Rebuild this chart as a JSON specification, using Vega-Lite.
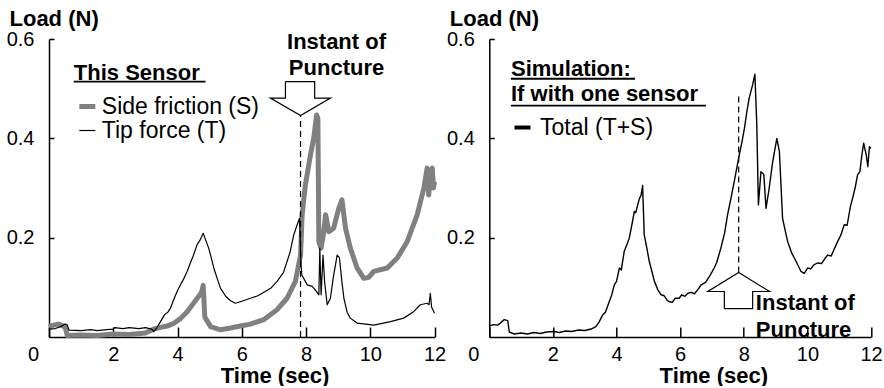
{
  "$schema": "https://vega.github.io/schema/vega-lite/v6.json",
  "background": "white",
  "padding": {"left": 6, "top": 7, "right": 0, "bottom": 0},
  "spacing": 54.3,
  "bounds": "flush",
  "config": {
    "view": {"stroke": null},
    "font": "Liberation Sans",
    "axis": {
      "grid": false, "domain": true, "ticks": true, "domainColor": "#000000", "domainWidth": 1.5, "tickColor": "#000000", "tickWidth": 1.5,
      "labelColor": "black", "labelFont": "Liberation Sans", "labelFontSize": 20, "labelFlush": false, "labelOverlap": false,
      "titleColor": "black", "titleFont": "Liberation Sans", "titleFontSize": 22, "titleFontWeight": "bold"
    },
    "axisX": {"domain": true, "ticks": true, "domainColor": "#000000", "domainWidth": 1.5, "tickColor": "#000000", "tickWidth": 1.5, "grid": false},
    "axisY": {"domain": true, "ticks": true, "domainColor": "#000000", "domainWidth": 1.5, "tickColor": "#000000", "tickWidth": 1.5, "grid": false},
    "legend": {
      "orient": "none", "padding": 0, "rowPadding": 0, "titlePadding": 10, "symbolType": "stroke",
      "titleFont": "Liberation Sans", "titleFontSize": 22, "titleFontWeight": "bold", "titleColor": "black",
      "labelFont": "Liberation Sans", "labelFontSize": 23, "labelColor": "black", "titleLimit": 400, "labelLimit": 400
    }
  },
  "datasets": {
    "left": [
      {"series": "Tip force (T)", "t": 0, "v": 0.016},
      {"series": "Tip force (T)", "t": 0.2, "v": 0.017},
      {"series": "Tip force (T)", "t": 0.4, "v": 0.022},
      {"series": "Tip force (T)", "t": 0.5, "v": 0.026},
      {"series": "Tip force (T)", "t": 0.57, "v": 0.024},
      {"series": "Tip force (T)", "t": 0.62, "v": 0.014},
      {"series": "Tip force (T)", "t": 1.0, "v": 0.013},
      {"series": "Tip force (T)", "t": 1.3, "v": 0.015},
      {"series": "Tip force (T)", "t": 1.5, "v": 0.013},
      {"series": "Tip force (T)", "t": 1.8, "v": 0.015},
      {"series": "Tip force (T)", "t": 2.0, "v": 0.016},
      {"series": "Tip force (T)", "t": 2.05, "v": 0.019},
      {"series": "Tip force (T)", "t": 2.3, "v": 0.017},
      {"series": "Tip force (T)", "t": 2.5, "v": 0.019},
      {"series": "Tip force (T)", "t": 2.8, "v": 0.017},
      {"series": "Tip force (T)", "t": 3.0, "v": 0.019},
      {"series": "Tip force (T)", "t": 3.2, "v": 0.016},
      {"series": "Tip force (T)", "t": 3.26, "v": 0.011},
      {"series": "Tip force (T)", "t": 3.35, "v": 0.018},
      {"series": "Tip force (T)", "t": 3.47, "v": 0.031},
      {"series": "Tip force (T)", "t": 3.6, "v": 0.045},
      {"series": "Tip force (T)", "t": 3.7, "v": 0.05},
      {"series": "Tip force (T)", "t": 3.78, "v": 0.058},
      {"series": "Tip force (T)", "t": 3.9, "v": 0.078},
      {"series": "Tip force (T)", "t": 3.99, "v": 0.092},
      {"series": "Tip force (T)", "t": 4.1, "v": 0.106},
      {"series": "Tip force (T)", "t": 4.2, "v": 0.118},
      {"series": "Tip force (T)", "t": 4.3, "v": 0.132},
      {"series": "Tip force (T)", "t": 4.4, "v": 0.149},
      {"series": "Tip force (T)", "t": 4.5, "v": 0.165},
      {"series": "Tip force (T)", "t": 4.61, "v": 0.186},
      {"series": "Tip force (T)", "t": 4.7, "v": 0.195},
      {"series": "Tip force (T)", "t": 4.8, "v": 0.209},
      {"series": "Tip force (T)", "t": 4.85, "v": 0.2},
      {"series": "Tip force (T)", "t": 4.97, "v": 0.179},
      {"series": "Tip force (T)", "t": 5.05, "v": 0.16},
      {"series": "Tip force (T)", "t": 5.13, "v": 0.139},
      {"series": "Tip force (T)", "t": 5.25, "v": 0.115},
      {"series": "Tip force (T)", "t": 5.34, "v": 0.098},
      {"series": "Tip force (T)", "t": 5.5, "v": 0.082},
      {"series": "Tip force (T)", "t": 5.65, "v": 0.073},
      {"series": "Tip force (T)", "t": 5.8, "v": 0.068},
      {"series": "Tip force (T)", "t": 6.0, "v": 0.072},
      {"series": "Tip force (T)", "t": 6.27, "v": 0.078},
      {"series": "Tip force (T)", "t": 6.5, "v": 0.083},
      {"series": "Tip force (T)", "t": 6.69, "v": 0.09},
      {"series": "Tip force (T)", "t": 6.9, "v": 0.098},
      {"series": "Tip force (T)", "t": 7.1, "v": 0.112},
      {"series": "Tip force (T)", "t": 7.3, "v": 0.13},
      {"series": "Tip force (T)", "t": 7.41, "v": 0.152},
      {"series": "Tip force (T)", "t": 7.5, "v": 0.17},
      {"series": "Tip force (T)", "t": 7.62, "v": 0.206},
      {"series": "Tip force (T)", "t": 7.72, "v": 0.225},
      {"series": "Tip force (T)", "t": 7.8, "v": 0.239},
      {"series": "Tip force (T)", "t": 7.84, "v": 0.15},
      {"series": "Tip force (T)", "t": 7.87, "v": 0.125},
      {"series": "Tip force (T)", "t": 8.04, "v": 0.105},
      {"series": "Tip force (T)", "t": 8.19, "v": 0.102},
      {"series": "Tip force (T)", "t": 8.29, "v": 0.095},
      {"series": "Tip force (T)", "t": 8.4, "v": 0.085},
      {"series": "Tip force (T)", "t": 8.43, "v": 0.179},
      {"series": "Tip force (T)", "t": 8.47, "v": 0.085},
      {"series": "Tip force (T)", "t": 8.53, "v": 0.165},
      {"series": "Tip force (T)", "t": 8.58, "v": 0.11},
      {"series": "Tip force (T)", "t": 8.66, "v": 0.065},
      {"series": "Tip force (T)", "t": 8.76, "v": 0.078},
      {"series": "Tip force (T)", "t": 8.85, "v": 0.12},
      {"series": "Tip force (T)", "t": 8.97, "v": 0.165},
      {"series": "Tip force (T)", "t": 9.04, "v": 0.16},
      {"series": "Tip force (T)", "t": 9.12, "v": 0.11},
      {"series": "Tip force (T)", "t": 9.18, "v": 0.078},
      {"series": "Tip force (T)", "t": 9.28, "v": 0.05},
      {"series": "Tip force (T)", "t": 9.38, "v": 0.038},
      {"series": "Tip force (T)", "t": 9.59, "v": 0.028},
      {"series": "Tip force (T)", "t": 10.11, "v": 0.024},
      {"series": "Tip force (T)", "t": 10.63, "v": 0.031},
      {"series": "Tip force (T)", "t": 11.04, "v": 0.038},
      {"series": "Tip force (T)", "t": 11.35, "v": 0.051},
      {"series": "Tip force (T)", "t": 11.56, "v": 0.065},
      {"series": "Tip force (T)", "t": 11.77, "v": 0.068},
      {"series": "Tip force (T)", "t": 11.83, "v": 0.065},
      {"series": "Tip force (T)", "t": 11.87, "v": 0.088},
      {"series": "Tip force (T)", "t": 11.91, "v": 0.06},
      {"series": "Tip force (T)", "t": 11.95, "v": 0.055},
      {"series": "Tip force (T)", "t": 12.0, "v": 0.048},
      {"series": "Side friction (S)", "t": 0, "v": 0.021},
      {"series": "Side friction (S)", "t": 0.15, "v": 0.024},
      {"series": "Side friction (S)", "t": 0.3, "v": 0.026},
      {"series": "Side friction (S)", "t": 0.45, "v": 0.022},
      {"series": "Side friction (S)", "t": 0.51, "v": 0.018},
      {"series": "Side friction (S)", "t": 0.57, "v": 0.003},
      {"series": "Side friction (S)", "t": 1.0, "v": 0.004},
      {"series": "Side friction (S)", "t": 1.5, "v": 0.003},
      {"series": "Side friction (S)", "t": 2.0, "v": 0.006},
      {"series": "Side friction (S)", "t": 2.5, "v": 0.005},
      {"series": "Side friction (S)", "t": 3.0, "v": 0.008},
      {"series": "Side friction (S)", "t": 3.26, "v": 0.016},
      {"series": "Side friction (S)", "t": 3.45, "v": 0.019},
      {"series": "Side friction (S)", "t": 3.68, "v": 0.022},
      {"series": "Side friction (S)", "t": 3.9, "v": 0.028},
      {"series": "Side friction (S)", "t": 4.09, "v": 0.037},
      {"series": "Side friction (S)", "t": 4.3, "v": 0.051},
      {"series": "Side friction (S)", "t": 4.51, "v": 0.069},
      {"series": "Side friction (S)", "t": 4.66, "v": 0.082},
      {"series": "Side friction (S)", "t": 4.75, "v": 0.09},
      {"series": "Side friction (S)", "t": 4.8, "v": 0.104},
      {"series": "Side friction (S)", "t": 4.85, "v": 0.04},
      {"series": "Side friction (S)", "t": 5.03, "v": 0.021},
      {"series": "Side friction (S)", "t": 5.34, "v": 0.0145},
      {"series": "Side friction (S)", "t": 5.65, "v": 0.018},
      {"series": "Side friction (S)", "t": 5.96, "v": 0.022},
      {"series": "Side friction (S)", "t": 6.27, "v": 0.026},
      {"series": "Side friction (S)", "t": 6.69, "v": 0.035},
      {"series": "Side friction (S)", "t": 7.1, "v": 0.055},
      {"series": "Side friction (S)", "t": 7.41, "v": 0.078},
      {"series": "Side friction (S)", "t": 7.67, "v": 0.112},
      {"series": "Side friction (S)", "t": 7.83, "v": 0.165},
      {"series": "Side friction (S)", "t": 7.88, "v": 0.246},
      {"series": "Side friction (S)", "t": 7.98, "v": 0.306},
      {"series": "Side friction (S)", "t": 8.14, "v": 0.367},
      {"series": "Side friction (S)", "t": 8.24, "v": 0.4},
      {"series": "Side friction (S)", "t": 8.33, "v": 0.447},
      {"series": "Side friction (S)", "t": 8.37, "v": 0.44},
      {"series": "Side friction (S)", "t": 8.4, "v": 0.192},
      {"series": "Side friction (S)", "t": 8.47, "v": 0.179},
      {"series": "Side friction (S)", "t": 8.55, "v": 0.21},
      {"series": "Side friction (S)", "t": 8.61, "v": 0.246},
      {"series": "Side friction (S)", "t": 8.71, "v": 0.212},
      {"series": "Side friction (S)", "t": 8.86, "v": 0.219},
      {"series": "Side friction (S)", "t": 9.02, "v": 0.259},
      {"series": "Side friction (S)", "t": 9.12, "v": 0.276},
      {"series": "Side friction (S)", "t": 9.23, "v": 0.219},
      {"series": "Side friction (S)", "t": 9.38, "v": 0.179},
      {"series": "Side friction (S)", "t": 9.59, "v": 0.139},
      {"series": "Side friction (S)", "t": 9.8, "v": 0.118},
      {"series": "Side friction (S)", "t": 9.95, "v": 0.12},
      {"series": "Side friction (S)", "t": 10.11, "v": 0.132},
      {"series": "Side friction (S)", "t": 10.53, "v": 0.139},
      {"series": "Side friction (S)", "t": 10.84, "v": 0.159},
      {"series": "Side friction (S)", "t": 11.15, "v": 0.192},
      {"series": "Side friction (S)", "t": 11.46, "v": 0.246},
      {"series": "Side friction (S)", "t": 11.67, "v": 0.3},
      {"series": "Side friction (S)", "t": 11.77, "v": 0.34},
      {"series": "Side friction (S)", "t": 11.82, "v": 0.286},
      {"series": "Side friction (S)", "t": 11.88, "v": 0.33},
      {"series": "Side friction (S)", "t": 11.93, "v": 0.34},
      {"series": "Side friction (S)", "t": 11.97, "v": 0.3},
      {"series": "Side friction (S)", "t": 12.0, "v": 0.313}
    ],
    "right": [
      {"series": "Total (T+S)", "t": 0, "v": 0.0225},
      {"series": "Total (T+S)", "t": 0.15, "v": 0.025},
      {"series": "Total (T+S)", "t": 0.26, "v": 0.024},
      {"series": "Total (T+S)", "t": 0.35, "v": 0.028},
      {"series": "Total (T+S)", "t": 0.47, "v": 0.035},
      {"series": "Total (T+S)", "t": 0.58, "v": 0.033},
      {"series": "Total (T+S)", "t": 0.63, "v": 0.01},
      {"series": "Total (T+S)", "t": 0.79, "v": 0.006},
      {"series": "Total (T+S)", "t": 1.0, "v": 0.008},
      {"series": "Total (T+S)", "t": 1.2, "v": 0.006},
      {"series": "Total (T+S)", "t": 1.4, "v": 0.009},
      {"series": "Total (T+S)", "t": 1.6, "v": 0.007},
      {"series": "Total (T+S)", "t": 1.8, "v": 0.01},
      {"series": "Total (T+S)", "t": 2.04, "v": 0.011},
      {"series": "Total (T+S)", "t": 2.2, "v": 0.009},
      {"series": "Total (T+S)", "t": 2.4, "v": 0.012},
      {"series": "Total (T+S)", "t": 2.6, "v": 0.011},
      {"series": "Total (T+S)", "t": 2.8, "v": 0.014},
      {"series": "Total (T+S)", "t": 3.0, "v": 0.013},
      {"series": "Total (T+S)", "t": 3.2, "v": 0.016},
      {"series": "Total (T+S)", "t": 3.35, "v": 0.021},
      {"series": "Total (T+S)", "t": 3.45, "v": 0.03},
      {"series": "Total (T+S)", "t": 3.57, "v": 0.045},
      {"series": "Total (T+S)", "t": 3.65, "v": 0.05},
      {"series": "Total (T+S)", "t": 3.77, "v": 0.071},
      {"series": "Total (T+S)", "t": 3.85, "v": 0.085},
      {"series": "Total (T+S)", "t": 3.93, "v": 0.105},
      {"series": "Total (T+S)", "t": 4.0, "v": 0.112},
      {"series": "Total (T+S)", "t": 4.09, "v": 0.139},
      {"series": "Total (T+S)", "t": 4.15, "v": 0.135},
      {"series": "Total (T+S)", "t": 4.24, "v": 0.172},
      {"series": "Total (T+S)", "t": 4.32, "v": 0.185},
      {"series": "Total (T+S)", "t": 4.4, "v": 0.199},
      {"series": "Total (T+S)", "t": 4.48, "v": 0.225},
      {"series": "Total (T+S)", "t": 4.56, "v": 0.253},
      {"series": "Total (T+S)", "t": 4.6, "v": 0.25},
      {"series": "Total (T+S)", "t": 4.65, "v": 0.262},
      {"series": "Total (T+S)", "t": 4.72, "v": 0.279},
      {"series": "Total (T+S)", "t": 4.77, "v": 0.285},
      {"series": "Total (T+S)", "t": 4.82, "v": 0.305},
      {"series": "Total (T+S)", "t": 4.87, "v": 0.206},
      {"series": "Total (T+S)", "t": 4.95, "v": 0.18},
      {"series": "Total (T+S)", "t": 5.03, "v": 0.152},
      {"series": "Total (T+S)", "t": 5.1, "v": 0.135},
      {"series": "Total (T+S)", "t": 5.19, "v": 0.112},
      {"series": "Total (T+S)", "t": 5.3, "v": 0.095},
      {"series": "Total (T+S)", "t": 5.4, "v": 0.085},
      {"series": "Total (T+S)", "t": 5.5, "v": 0.083},
      {"series": "Total (T+S)", "t": 5.6, "v": 0.073},
      {"series": "Total (T+S)", "t": 5.66, "v": 0.071},
      {"series": "Total (T+S)", "t": 5.75, "v": 0.07},
      {"series": "Total (T+S)", "t": 5.85, "v": 0.078},
      {"series": "Total (T+S)", "t": 5.97, "v": 0.078},
      {"series": "Total (T+S)", "t": 6.05, "v": 0.085},
      {"series": "Total (T+S)", "t": 6.15, "v": 0.082},
      {"series": "Total (T+S)", "t": 6.24, "v": 0.088},
      {"series": "Total (T+S)", "t": 6.35, "v": 0.09},
      {"series": "Total (T+S)", "t": 6.45, "v": 0.087},
      {"series": "Total (T+S)", "t": 6.55, "v": 0.095},
      {"series": "Total (T+S)", "t": 6.66, "v": 0.105},
      {"series": "Total (T+S)", "t": 6.8, "v": 0.11},
      {"series": "Total (T+S)", "t": 6.95, "v": 0.125},
      {"series": "Total (T+S)", "t": 7.07, "v": 0.139},
      {"series": "Total (T+S)", "t": 7.15, "v": 0.15},
      {"series": "Total (T+S)", "t": 7.28, "v": 0.179},
      {"series": "Total (T+S)", "t": 7.4, "v": 0.21},
      {"series": "Total (T+S)", "t": 7.49, "v": 0.246},
      {"series": "Total (T+S)", "t": 7.6, "v": 0.28},
      {"series": "Total (T+S)", "t": 7.7, "v": 0.313},
      {"series": "Total (T+S)", "t": 7.78, "v": 0.34},
      {"series": "Total (T+S)", "t": 7.86, "v": 0.367},
      {"series": "Total (T+S)", "t": 7.95, "v": 0.395},
      {"series": "Total (T+S)", "t": 8.02, "v": 0.42},
      {"series": "Total (T+S)", "t": 8.1, "v": 0.455},
      {"series": "Total (T+S)", "t": 8.17, "v": 0.481},
      {"series": "Total (T+S)", "t": 8.28, "v": 0.508},
      {"series": "Total (T+S)", "t": 8.35, "v": 0.529},
      {"series": "Total (T+S)", "t": 8.41, "v": 0.427},
      {"series": "Total (T+S)", "t": 8.46, "v": 0.266},
      {"series": "Total (T+S)", "t": 8.54, "v": 0.333},
      {"series": "Total (T+S)", "t": 8.63, "v": 0.327},
      {"series": "Total (T+S)", "t": 8.7, "v": 0.259},
      {"series": "Total (T+S)", "t": 8.8, "v": 0.3},
      {"series": "Total (T+S)", "t": 8.91, "v": 0.353},
      {"series": "Total (T+S)", "t": 9.04, "v": 0.4},
      {"series": "Total (T+S)", "t": 9.12, "v": 0.373},
      {"series": "Total (T+S)", "t": 9.22, "v": 0.239},
      {"series": "Total (T+S)", "t": 9.3, "v": 0.215},
      {"series": "Total (T+S)", "t": 9.38, "v": 0.192},
      {"series": "Total (T+S)", "t": 9.5, "v": 0.17},
      {"series": "Total (T+S)", "t": 9.59, "v": 0.159},
      {"series": "Total (T+S)", "t": 9.7, "v": 0.145},
      {"series": "Total (T+S)", "t": 9.8, "v": 0.132},
      {"series": "Total (T+S)", "t": 9.9, "v": 0.128},
      {"series": "Total (T+S)", "t": 10.01, "v": 0.139},
      {"series": "Total (T+S)", "t": 10.1, "v": 0.137},
      {"series": "Total (T+S)", "t": 10.2, "v": 0.145},
      {"series": "Total (T+S)", "t": 10.32, "v": 0.149},
      {"series": "Total (T+S)", "t": 10.45, "v": 0.148},
      {"series": "Total (T+S)", "t": 10.55, "v": 0.158},
      {"series": "Total (T+S)", "t": 10.64, "v": 0.165},
      {"series": "Total (T+S)", "t": 10.75, "v": 0.163},
      {"series": "Total (T+S)", "t": 10.85, "v": 0.178},
      {"series": "Total (T+S)", "t": 10.95, "v": 0.192},
      {"series": "Total (T+S)", "t": 11.05, "v": 0.205},
      {"series": "Total (T+S)", "t": 11.16, "v": 0.226},
      {"series": "Total (T+S)", "t": 11.25, "v": 0.225},
      {"series": "Total (T+S)", "t": 11.35, "v": 0.262},
      {"series": "Total (T+S)", "t": 11.42, "v": 0.279},
      {"series": "Total (T+S)", "t": 11.5, "v": 0.3},
      {"series": "Total (T+S)", "t": 11.58, "v": 0.327},
      {"series": "Total (T+S)", "t": 11.65, "v": 0.333},
      {"series": "Total (T+S)", "t": 11.72, "v": 0.37},
      {"series": "Total (T+S)", "t": 11.77, "v": 0.39},
      {"series": "Total (T+S)", "t": 11.85, "v": 0.367},
      {"series": "Total (T+S)", "t": 11.9, "v": 0.343},
      {"series": "Total (T+S)", "t": 11.95, "v": 0.383},
      {"series": "Total (T+S)", "t": 12.0, "v": 0.38}
    ],
    "leftArrow": [
      {"o": 1, "t": 7.36, "v": 0.514},
      {"o": 2, "t": 8.27, "v": 0.514},
      {"o": 3, "t": 8.27, "v": 0.481},
      {"o": 4, "t": 8.76, "v": 0.481},
      {"o": 5, "t": 7.83, "v": 0.446},
      {"o": 6, "t": 6.89, "v": 0.481},
      {"o": 7, "t": 7.36, "v": 0.481},
      {"o": 8, "t": 7.36, "v": 0.514}
    ],
    "rightArrow": [
      {"o": 1, "t": 7.39, "v": 0.057},
      {"o": 2, "t": 8.28, "v": 0.057},
      {"o": 3, "t": 8.28, "v": 0.0916},
      {"o": 4, "t": 8.81, "v": 0.0916},
      {"o": 5, "t": 7.84, "v": 0.13},
      {"o": 6, "t": 6.87, "v": 0.0916},
      {"o": 7, "t": 7.39, "v": 0.0916},
      {"o": 8, "t": 7.39, "v": 0.057}
    ]
  },
  "hconcat": [
    {
      "width": 385.5,
      "height": 298,
      "encoding": {
        "x": {"field": "t", "type": "quantitative", "scale": {"domain": [0, 12], "nice": false, "zero": false},
          "axis": {"title": "Time (sec)", "values": [0, 2, 4, 6, 8, 10, 12], "domain": true, "ticks": true, "domainColor": "black", "tickColor": "black", "domainWidth": 1.5, "tickWidth": 1.5, "tickSize": -10, "labelPadding": 17,
            "labelOffset": {"expr": "datum.value == 0 ? -16 : 0"}, "titleX": 225.5, "titleY": 45, "titleBaseline": "alphabetic"}},
        "y": {"field": "v", "type": "quantitative", "scale": {"domain": [0, 0.6], "nice": false},
          "axis": {"title": "Load (N)", "values": [0.2, 0.4, 0.6], "format": ".1f", "domain": true, "ticks": true, "domainColor": "black", "tickColor": "black", "domainWidth": 1.5, "tickWidth": 1.5, "tickSize": -5, "labelPadding": 20,
            "titleAngle": 0, "titleX": -40, "titleY": -14, "titleAlign": "left", "titleBaseline": "alphabetic"}}
      },
      "layer": [
        {
          "data": {"name": "left"},
          "transform": [{"filter": "datum.series == 'Side friction (S)'"}],
          "mark": {"type": "line", "strokeJoin": "round"},
          "encoding": {
            "color": {"field": "series", "type": "nominal", "scale": {"domain": ["Side friction (S)", "Tip force (T)"], "range": ["#808080", "#000000"]},
              "legend": {"title": "This Sensor", "legendX": 24.8, "legendY": 24, "symbolSize": 256, "symbolOffset": 2, "labelOffset": 3}},
            "strokeWidth": {"field": "series", "type": "nominal", "scale": {"domain": ["Side friction (S)", "Tip force (T)"], "range": [5, 1.2]},
              "legend": {"title": "This Sensor", "legendX": 24.8, "legendY": 24, "symbolSize": 256, "symbolOffset": 2, "labelOffset": 3}}
          }
        },
        {
          "data": {"name": "left"},
          "transform": [{"filter": "datum.series == 'Tip force (T)'"}],
          "mark": {"type": "line", "strokeJoin": "round"},
          "encoding": {
            "color": {"field": "series", "type": "nominal", "scale": {"domain": ["Side friction (S)", "Tip force (T)"], "range": ["#808080", "#000000"]},
              "legend": {"title": "This Sensor", "legendX": 24.8, "legendY": 24, "symbolSize": 256, "symbolOffset": 2, "labelOffset": 3}},
            "strokeWidth": {"field": "series", "type": "nominal", "scale": {"domain": ["Side friction (S)", "Tip force (T)"], "range": [5, 1.2]},
              "legend": {"title": "This Sensor", "legendX": 24.8, "legendY": 24, "symbolSize": 256, "symbolOffset": 2, "labelOffset": 3}}
          }
        },
        {
          "data": {"values": [{"t": 7.83, "v": 0, "v2": 0.446}]},
          "mark": {"type": "rule", "color": "black", "strokeWidth": 1.2, "strokeDash": [6, 4]},
          "encoding": {"y2": {"field": "v2"}}
        },
        {
          "data": {"name": "leftArrow"},
          "mark": {"type": "line", "color": "black", "strokeWidth": 1.2},
          "encoding": {"order": {"field": "o", "type": "quantitative"}}
        },
        {
          "data": {"values": [{"t": 0.77, "t2": 4.87, "v": 0.514}]},
          "mark": {"type": "rule", "color": "black", "strokeWidth": 1.8},
          "encoding": {"x2": {"field": "t2"}}
        },
        {
          "data": {"values": [{"t": 8.95, "v": 0.579, "label": "Instant of\nPuncture"}]},
          "mark": {"type": "text", "lineBreak": "\n", "align": "center", "baseline": "alphabetic", "fontSize": 22, "fontWeight": "bold", "lineHeight": 26, "color": "black"},
          "encoding": {"text": {"field": "label"}}
        }
      ]
    },
    {
      "width": 381.7,
      "height": 298,
      "encoding": {
        "x": {"field": "t", "type": "quantitative", "scale": {"domain": [0, 12], "nice": false, "zero": false},
          "axis": {"title": "Time (sec)", "values": [0, 2, 4, 6, 8, 10, 12], "domain": true, "ticks": true, "domainColor": "black", "tickColor": "black", "domainWidth": 1.5, "tickWidth": 1.5, "tickSize": -10, "labelPadding": 17,
            "labelOffset": {"expr": "datum.value == 0 ? -16 : 0"}, "titleX": 224, "titleY": 45, "titleBaseline": "alphabetic"}},
        "y": {"field": "v", "type": "quantitative", "scale": {"domain": [0, 0.6], "nice": false},
          "axis": {"title": "Load (N)", "values": [0.2, 0.4, 0.6], "format": ".1f", "domain": true, "ticks": true, "domainColor": "black", "tickColor": "black", "domainWidth": 1.5, "tickWidth": 1.5, "tickSize": -5, "labelPadding": 20,
            "titleAngle": 0, "titleX": -40, "titleY": -14, "titleAlign": "left", "titleBaseline": "alphabetic"}}
      },
      "layer": [
        {
          "data": {"name": "right"},
          "mark": {"type": "line", "strokeWidth": 1.4, "strokeJoin": "round"},
          "encoding": {
            "color": {"field": "series", "type": "nominal", "scale": {"domain": ["Total (T+S)"], "range": ["#000000"]},
              "legend": {"title": ["Simulation:", "If with one sensor"], "titleLineHeight": 25, "legendX": 21.7, "legendY": 20, "symbolSize": 256, "symbolStrokeWidth": 4, "symbolOffset": 0, "labelOffset": 6}}
          }
        },
        {
          "data": {"values": [{"t": 7.84, "v": 0.13, "v2": 0.488}]},
          "mark": {"type": "rule", "color": "black", "strokeWidth": 1.2, "strokeDash": [6, 4]},
          "encoding": {"y2": {"field": "v2"}}
        },
        {
          "data": {"name": "rightArrow"},
          "mark": {"type": "line", "color": "black", "strokeWidth": 1.2},
          "encoding": {"order": {"field": "o", "type": "quantitative"}}
        },
        {
          "data": {"values": [{"t": 0.68, "t2": 4.58, "v": 0.52}, {"t": 0.68, "t2": 6.81, "v": 0.466}]},
          "mark": {"type": "rule", "color": "black", "strokeWidth": 1.8},
          "encoding": {"x2": {"field": "t2"}}
        },
        {
          "data": {"values": [{"t": 8.38, "v": 0.054, "label": "Instant of\nPuncture"}]},
          "mark": {"type": "text", "lineBreak": "\n", "align": "left", "baseline": "alphabetic", "fontSize": 22, "fontWeight": "bold", "lineHeight": 26.5, "color": "black"},
          "encoding": {"text": {"field": "label"}}
        }
      ]
    }
  ],
  "resolve": {
    "scale": {"color": "independent", "strokeWidth": "independent"},
    "legend": {"color": "independent", "strokeWidth": "independent"}
  }
}
